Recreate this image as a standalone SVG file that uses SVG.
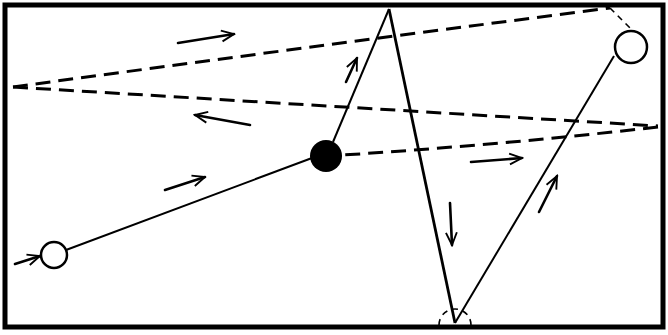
<svg xmlns="http://www.w3.org/2000/svg" width="668" height="335" viewBox="0 0 668 335">
<defs>
<style>
.frame{fill:none;stroke:#000;stroke-width:5}
.solid{fill:none;stroke:#000;stroke-width:2}
.thick{fill:none;stroke:#000;stroke-width:2.8}
.dash{fill:none;stroke:#000;stroke-width:3;stroke-dasharray:15 8}
.thin-dash{fill:none;stroke:#000;stroke-width:1.6;stroke-dasharray:6 5}
.arrow{fill:none;stroke:#000;stroke-width:2.6;stroke-linecap:round;marker-end:url(#chev)}
.ring{fill:#fff;stroke:#000;stroke-width:2.5}
</style>
<marker id="chev" viewBox="0 0 10 10" refX="9" refY="5" markerWidth="6" markerHeight="6" orient="auto" markerUnits="strokeWidth">
<path d="M1,1.5 L9,5 L1,8.5" fill="none" stroke="#000" stroke-width="1.2"/>
</marker>
</defs>
<rect width="668" height="335" fill="#fff"/>
<rect class="frame" x="5" y="5" width="658" height="322"/>
<g id="connectors">
<path class="dash" d="M13,87 Q300,48 610,8"/>
<path class="dash" d="M13,87 L658,126"/>
<path class="dash" d="M658,127 Q500,145 343,155"/>
<path class="thin-dash" d="M610,8 L633,31"/>
<path class="solid" d="M66,250 L312,158"/>
<path class="solid" d="M333,142 L389,9"/>
<path class="thick" d="M389,9 L455,323"/>
<path class="solid" d="M455,323 L614,56"/>
</g>
<g id="arrows">
<path class="arrow" d="M178,43 L234,34"/>
<path class="arrow" d="M250,125 L195,115"/>
<path class="arrow" d="M346,82 L357,58"/>
<path class="arrow" d="M165,190 L205,177"/>
<path class="arrow" d="M471,162 L522,158"/>
<path class="arrow" d="M450,203 L452,245"/>
<path class="arrow" d="M539,212 L557,176"/>
<path class="arrow" d="M15,264 L40,256"/>
</g>
<g id="node-start"><circle class="ring" cx="54" cy="255" r="13"/></g>
<g id="node-dot"><circle cx="326" cy="156" r="16" fill="#000"/></g>
<g id="node-topright"><circle class="ring" cx="631" cy="47" r="16"/></g>
<g id="node-bottom"><path class="thin-dash" d="M439,325 A16,16 0 0 1 471,325"/></g>
</svg>
